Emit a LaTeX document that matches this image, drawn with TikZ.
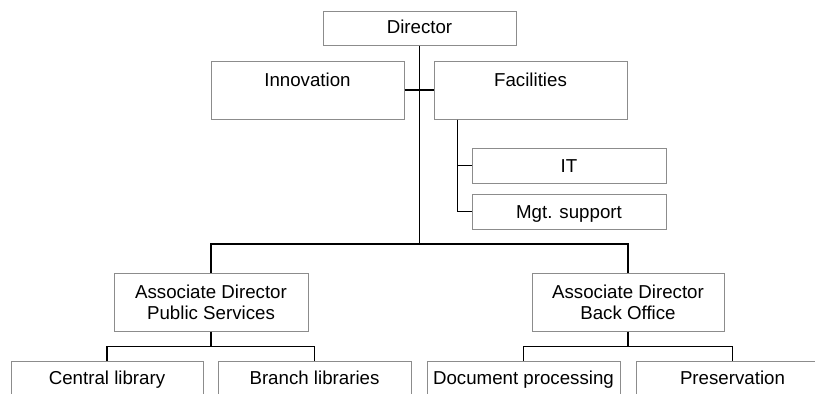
\documentclass[tikz,border=0pt]{standalone}
\usepackage{fontspec}
\setmainfont{Liberation Sans}
\definecolor{boxgray}{RGB}{140,140,140}
\begin{document}
\begin{tikzpicture}[x=1pt,y=-1pt,
  box/.style={draw=boxgray, line width=1pt, minimum width=193pt, inner sep=0pt, align=center,
    font=\fontsize{18.7}{21}\selectfont},
  oneline/.style={box, text height=13.5pt, text depth=3.5pt},
  lowline/.style={box, text height=15.5pt, text depth=1.5pt},
  conn/.style={draw=black, line width=1.2pt},
  mainconn/.style={draw=black, line width=1.8pt}]
\useasboundingbox (0,0) rectangle (815,394);
\clip (0,0) rectangle (815,394);
\node[oneline, minimum height=34pt] (dir) at (419.5,28) {Director};
\node[box, minimum height=58pt] (inn) at (307.5,90) {Innovation\\\mbox{}};
\node[box, minimum height=58pt] (fac) at (530.5,90) {Facilities\\\mbox{}};
\node[lowline, minimum height=35pt, minimum width=194pt] (it) at (569,165.5) {IT};
\node[lowline, minimum height=35pt, minimum width=194pt] (mgt) at (569,211.5) {Mgt. support};
\node[box, minimum height=58pt, minimum width=194pt] (adps) at (211,302) {Associate Director\\Public Services};
\node[box, minimum height=58pt, minimum width=192pt] (adbo) at (628,302) {Associate Director\\Back Office};
\node[oneline, minimum height=36pt, minimum width=192pt] (cent) at (107,379) {Central library};
\node[oneline, minimum height=36pt] (branch) at (314.5,379) {Branch libraries};
\node[oneline, minimum height=36pt] (doc) at (523.5,379) {Document processing};
\node[oneline, minimum height=36pt] (pres) at (732.5,379) {Preservation};
\coordinate (hub) at (419.5,244);
\draw[mainconn] (dir.south) -- (hub);
\draw[conn] (inn.east) -- (fac.west);
\draw[conn] ([xshift=24pt]fac.south west) |- (mgt.west);
\draw[conn] ([xshift=24pt]fac.south west) |- (it.west);
\draw[conn] (adps.north) |- (hub) -| (adbo.north);
\draw[conn] (adps.south) -- ([yshift=-15pt]adps.south);
\draw[conn] (cent.north) |- ([yshift=-15pt]adps.south) -| (branch.north);
\draw[conn] (adbo.south) -- ([yshift=-15pt]adbo.south);
\draw[conn] (doc.north) |- ([yshift=-15pt]adbo.south) -| (pres.north);
\end{tikzpicture}
\end{document}
